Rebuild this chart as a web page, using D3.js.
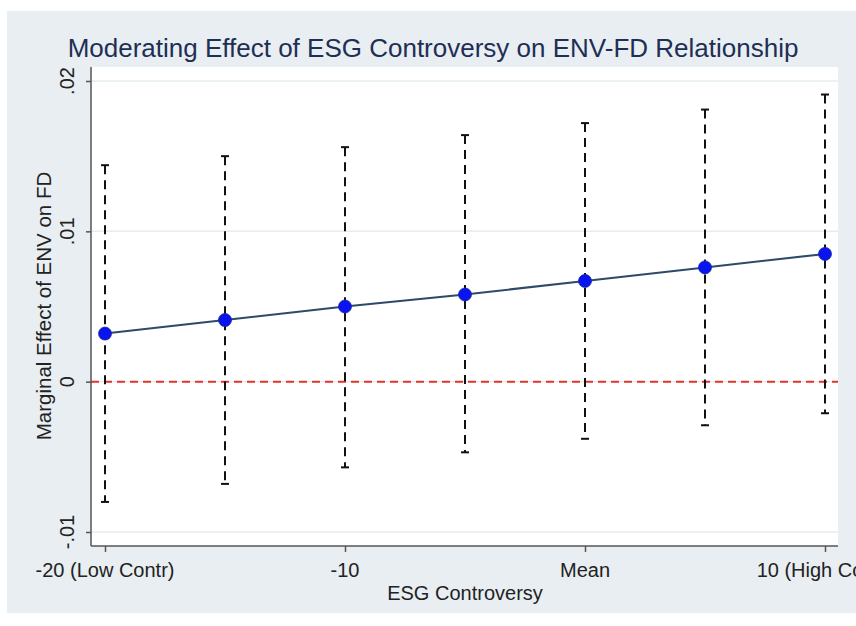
<!DOCTYPE html>
<html>
<head>
<meta charset="utf-8">
<script src="https://cdn.jsdelivr.net/npm/d3@7"></script>
<style>
  body { margin: 0; background: #fff; }
  text { font-family: "Liberation Sans", Arial, Helvetica, sans-serif; }
</style>
</head>
<body>
<div id="chart"></div>
<script>
// Data
const controversy = [-20, -15, -10, -5, 0, 5, 10];
const effect = [0.0032, 0.0041, 0.0050, 0.0058, 0.0067, 0.0076, 0.0085];
const upper = [0.0144, 0.0150, 0.0156, 0.0164, 0.0172, 0.0181, 0.0191];
const lower = [-0.0080, -0.0068, -0.0057, -0.0047, -0.0038, -0.0029, -0.0021];
const xTicks = [-20, -10, 0, 10];
const xTickLabels = ["-20 (Low Contr)", "-10", "Mean", "10 (High Contr)"];
const yTicks = [-0.01, 0, 0.01, 0.02];
const yTickLabels = ["-.01", "0", ".01", ".02"];

const W = 856, H = 626;

const svg = d3.select("#chart")
  .append("svg")
  .attr("width", W)
  .attr("height", H);

// Outer light background
svg.append("rect")
  .attr("x", 7).attr("y", 11)
  .attr("width", W - 7).attr("height", 602)
  .attr("fill", "#e8eef1");

// Scales
const x = d3.scaleLinear().domain([-20, 10]).range([105, 825]);
const y = d3.scaleLinear().domain([-0.01, 0.02]).range([532, 81]);

const plotLeft = 91, plotRight = 838, plotTop = 67, plotBottom = 546;

// Plot region
svg.append("rect")
  .attr("x", plotLeft).attr("y", plotTop)
  .attr("width", plotRight - plotLeft).attr("height", plotBottom - plotTop)
  .attr("fill", "#ffffff");

// Grid lines
svg.selectAll(".grid")
  .data(yTicks)
  .enter()
  .append("line")
  .attr("x1", plotLeft).attr("x2", plotRight)
  .attr("y1", d => y(d)).attr("y2", d => y(d))
  .attr("stroke", "#e6ecef")
  .attr("stroke-width", 1.5);

// Zero reference line
svg.append("line")
  .attr("x1", plotLeft).attr("x2", plotRight)
  .attr("y1", y(0)).attr("y2", y(0))
  .attr("stroke", "#e2352c")
  .attr("stroke-width", 2)
  .attr("stroke-dasharray", "8,5");

const pts = controversy.map((c, i) => ({ c: c, m: effect[i], hi: upper[i], lo: lower[i] }));

// Confidence intervals
svg.selectAll(".ci")
  .data(pts)
  .enter()
  .append("line")
  .attr("x1", d => x(d.c)).attr("x2", d => x(d.c))
  .attr("y1", d => y(d.hi)).attr("y2", d => y(d.lo))
  .attr("stroke", "#111")
  .attr("stroke-width", 2)
  .attr("stroke-dasharray", "9,6");

const capW = 4;
["hi", "lo"].forEach(k => {
  svg.selectAll(".cap-" + k)
    .data(pts)
    .enter()
    .append("line")
    .attr("x1", d => x(d.c) - capW).attr("x2", d => x(d.c) + capW)
    .attr("y1", d => y(d[k])).attr("y2", d => y(d[k]))
    .attr("stroke", "#111")
    .attr("stroke-width", 2);
});

// Line through estimates
svg.append("path")
  .datum(pts)
  .attr("fill", "none")
  .attr("stroke", "#2e4a68")
  .attr("stroke-width", 2)
  .attr("d", d3.line().x(d => x(d.c)).y(d => y(d.m)));

svg.selectAll(".dot")
  .data(pts)
  .enter()
  .append("circle")
  .attr("cx", d => x(d.c))
  .attr("cy", d => y(d.m))
  .attr("r", 6.5)
  .attr("fill", "#0a14f0")
  .attr("stroke", "#1a2a9a")
  .attr("stroke-width", 0.8);

// Axes
const yAxis = svg.append("g")
  .attr("transform", `translate(${plotLeft},0)`)
  .call(d3.axisLeft(y).tickValues(yTicks).tickSize(5).tickFormat(""));
yAxis.select(".domain").attr("d", `M0,${plotTop}V${plotBottom}`);

const xAxis = svg.append("g")
  .attr("transform", `translate(0,${plotBottom})`)
  .call(d3.axisBottom(x).tickValues(xTicks).tickSize(6).tickFormat(""));
xAxis.select(".domain").attr("d", `M${plotLeft},0H${plotRight}`);

[yAxis, xAxis].forEach(a => {
  a.selectAll("path, line").attr("stroke", "#555").attr("stroke-width", 1.5);
});

// Tick labels
svg.selectAll(".ylab")
  .data(yTicks)
  .enter()
  .append("text")
  .attr("transform", (d, i) => `translate(74,${y(d)}) rotate(-90)`)
  .attr("text-anchor", "middle")
  .attr("font-size", 20)
  .attr("fill", "#222")
  .text((d, i) => yTickLabels[i]);

svg.selectAll(".xlab")
  .data(xTicks)
  .enter()
  .append("text")
  .attr("x", d => x(d))
  .attr("y", 577)
  .attr("text-anchor", "middle")
  .attr("font-size", 20)
  .attr("fill", "#222")
  .text((d, i) => xTickLabels[i]);

// Axis titles
svg.append("text")
  .attr("x", 465).attr("y", 600)
  .attr("text-anchor", "middle")
  .attr("font-size", 20)
  .attr("fill", "#222")
  .text("ESG Controversy");

svg.append("text")
  .attr("transform", "translate(51,306) rotate(-90)")
  .attr("text-anchor", "middle")
  .attr("font-size", 20.5)
  .attr("fill", "#222")
  .text("Marginal Effect of ENV on FD");

// Title
svg.append("text")
  .attr("x", 433).attr("y", 57)
  .attr("text-anchor", "middle")
  .attr("font-size", 26)
  .attr("fill", "#1f2e55")
  .text("Moderating Effect of ESG Controversy on ENV-FD Relationship");
</script>
</body>
</html>
